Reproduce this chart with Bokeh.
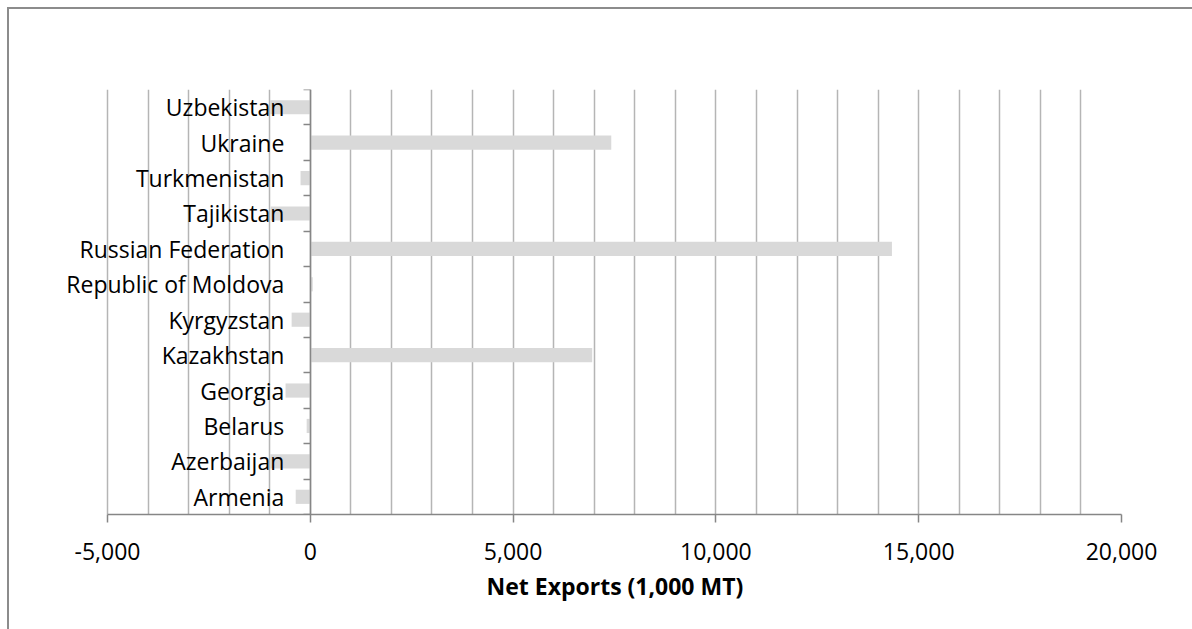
from bokeh.plotting import figure
from bokeh.models import (Range1d, LinearAxis, FixedTicker, NumeralTickFormatter,
                          LabelSet, ColumnDataSource, Title)
from bokeh.core.properties import value
from bokeh.embed import file_html
from bokeh.resources import INLINE

# Net exports by country (1,000 MT), listed bottom to top
countries = ["Armenia", "Azerbaijan", "Belarus", "Georgia", "Kazakhstan",
             "Kyrgyzstan", "Republic of Moldova", "Russian Federation",
             "Tajikistan", "Turkmenistan", "Ukraine", "Uzbekistan"]
net_exports = [-360, -990, -90, -610, 6950, -460, 60, 14340, -980, -240, 7420, -990]

x_min, x_max = -5000, 20000
grid_step = 1000
label_step = 5000
x_title = "Net Exports (1,000 MT)"

FONT = "Open Sans"
FONT_SIZE = "23px"
AXIS_GRAY = "#868686"
GRID_GRAY = "#b5b5b5"
BAR_GRAY = "#d9d9d9"
FRAME_GRAY = "#8c8c8c"

# plot-area geometry: the value scale spans PLOT_W pixels; the frame is widened
# to the left by LABEL_ROOM pixels so the category names are not clipped
PLOT_W = 1014
LABEL_ROOM = 87
TITLE_W = 256  # approximate rendered width of the bold axis title
units_per_px = (x_max - x_min) / PLOT_W
x_start = x_min - LABEL_ROOM * units_per_px

n = len(countries)
positions = list(range(n))
source = ColumnDataSource(dict(y=positions, value=net_exports, name=countries))

p = figure(width=1183, height=620,
           frame_width=PLOT_W + LABEL_ROOM, frame_height=425,
           min_border_left=98 - LABEL_ROOM, min_border_right=71,
           min_border_top=80, min_border_bottom=115,
           x_range=Range1d(x_start, x_max), y_range=Range1d(-0.5, n - 0.5),
           y_axis_location=None, x_axis_location=None,
           output_backend="svg", toolbar_location=None,
           margin=(7, 0, 0, 7),
           styles={"border-left": f"2px solid {FRAME_GRAY}",
                   "border-top": f"2px solid {FRAME_GRAY}"})
p.outline_line_color = None
p.background_fill_color = "white"
p.border_fill_color = "white"

# bars
p.hbar(y="y", left=0, right="value", height=0.4, source=source,
       fill_color=BAR_GRAY, line_color=None)

# bottom value axis
xaxis = LinearAxis(ticker=FixedTicker(ticks=list(range(x_min, x_max + 1, label_step))),
                   formatter=NumeralTickFormatter(format="0,0"),
                   bounds=(x_min, x_max))
xaxis.axis_line_color = AXIS_GRAY
xaxis.axis_line_width = 1.5
xaxis.major_tick_line_color = AXIS_GRAY
xaxis.major_tick_line_width = 1.5
xaxis.major_tick_out = 8
xaxis.major_tick_in = 0
xaxis.minor_tick_line_color = None
xaxis.major_label_text_font = FONT
xaxis.major_label_text_font_size = FONT_SIZE
xaxis.major_label_text_color = "black"
xaxis.major_label_standoff = 20
p.add_layout(xaxis, "below")

# axis title, centred under the value scale rather than the widened frame
p.add_layout(Title(text=x_title, align="left",
                   offset=LABEL_ROOM + PLOT_W / 2 - TITLE_W / 2,
                   standoff=11, text_font=FONT, text_font_size=FONT_SIZE,
                   text_font_style="bold", text_color="black"), "below")

# vertical gridlines every 1,000
p.xgrid.ticker = FixedTicker(ticks=list(range(x_min, x_max + 1, grid_step)))
p.xgrid.grid_line_color = GRID_GRAY
p.xgrid.grid_line_width = 1.5
p.ygrid.grid_line_color = None

# category axis drawn at zero: tick marks between categories
tick_axis = LinearAxis(ticker=FixedTicker(ticks=[i - 0.5 for i in range(n + 1)]),
                       fixed_location=0)
tick_axis.axis_line_color = AXIS_GRAY
tick_axis.axis_line_width = 1.5
tick_axis.major_tick_line_color = AXIS_GRAY
tick_axis.major_tick_line_width = 1.5
tick_axis.major_tick_out = 7
tick_axis.major_tick_in = 0
tick_axis.minor_tick_line_color = None
tick_axis.major_label_text_font_size = "0px"
tick_axis.major_label_text_color = None
p.add_layout(tick_axis, "left")

# category names, right-aligned just left of the zero line
p.add_layout(LabelSet(x=0, y="y", text="name", source=source,
                      x_offset=-26, text_align="right", text_baseline="middle",
                      text_font=value(FONT), text_font_size=FONT_SIZE,
                      text_color="black"))

open("out.html", "w").write(file_html(p, INLINE))
